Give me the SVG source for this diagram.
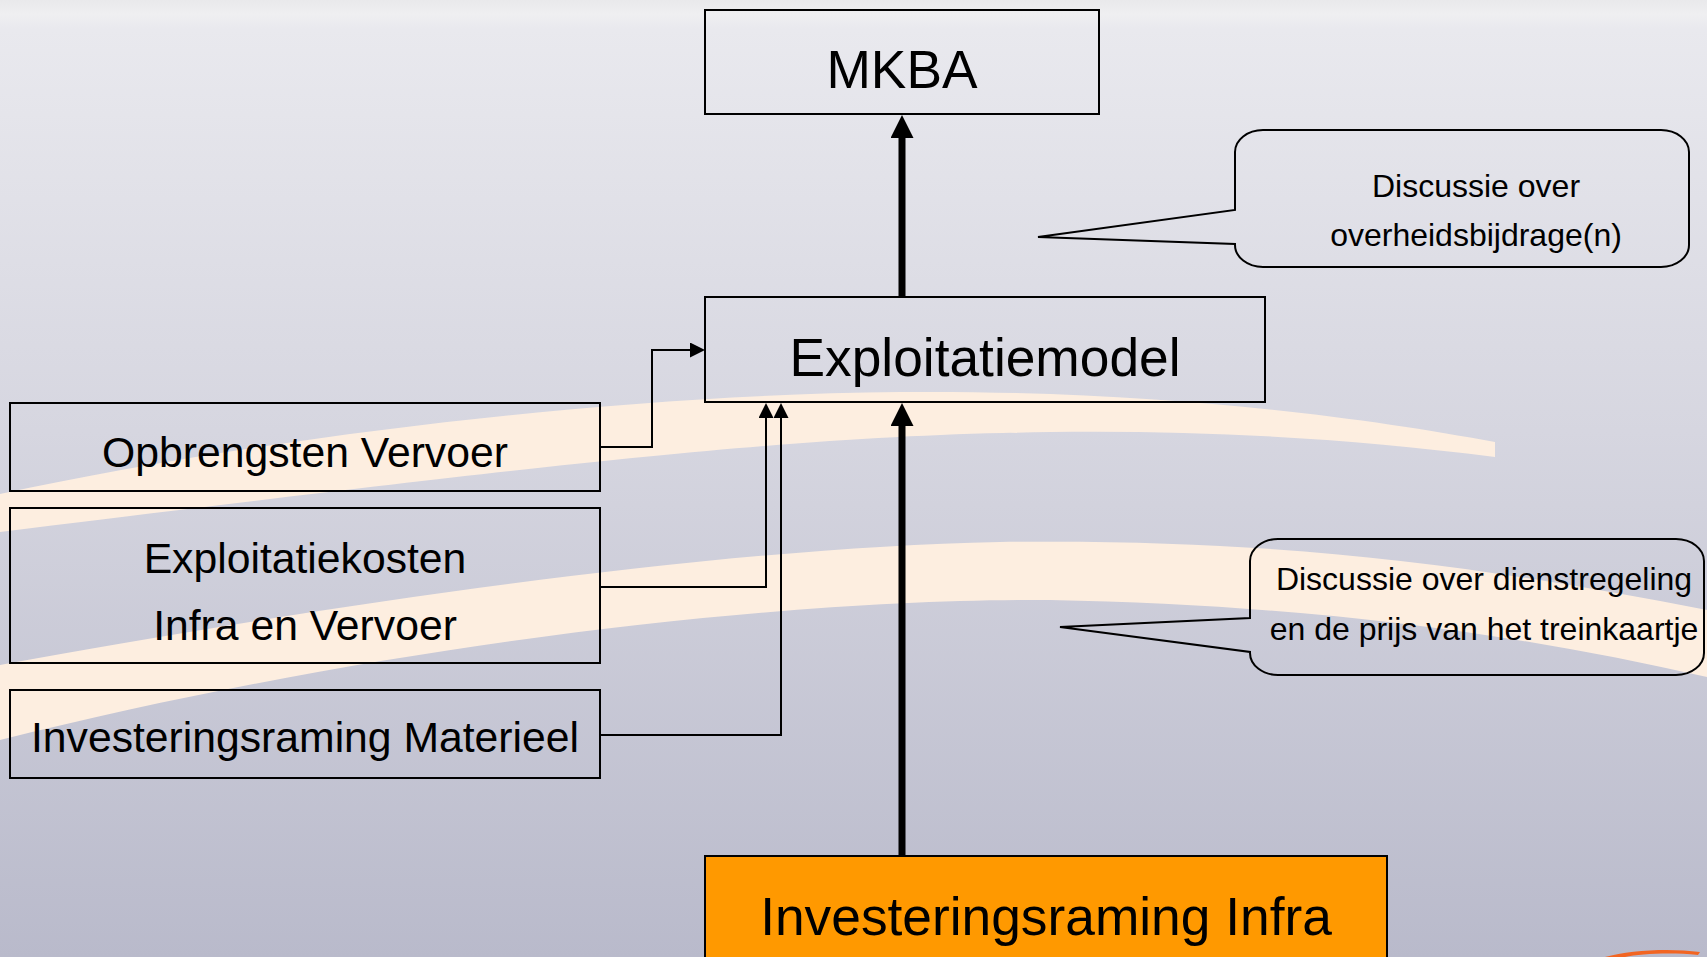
<svg xmlns="http://www.w3.org/2000/svg" width="1707" height="957" viewBox="0 0 1707 957">
<defs>
<linearGradient id="bg" x1="0" y1="0" x2="0" y2="1">
<stop offset="0" stop-color="#e9e9eb"/>
<stop offset="0.015" stop-color="#efeff1"/>
<stop offset="0.03" stop-color="#e9e9ee"/>
<stop offset="0.45" stop-color="#d6d6e0"/>
<stop offset="1" stop-color="#b9bacb"/>
</linearGradient>
<marker id="thin" viewBox="0 0 15 15" refX="0" refY="7.5" markerWidth="15" markerHeight="15" markerUnits="userSpaceOnUse" orient="auto">
<path d="M0,0 L15,7.5 L0,15 Z" fill="#000"/>
</marker>
<marker id="thick" viewBox="0 0 23 23" refX="0" refY="11.5" markerWidth="23" markerHeight="23" markerUnits="userSpaceOnUse" orient="auto">
<path d="M0,0 L23,11.5 L0,23 Z" fill="#000"/>
</marker>
</defs>
<style>
.box{fill:none;stroke:#000;stroke-width:2}
.big{font-family:"Liberation Sans",Arial,sans-serif;font-size:53.3px;fill:#000;text-anchor:middle}
.mid{font-family:"Liberation Sans",Arial,sans-serif;font-size:42.7px;fill:#000;text-anchor:middle}
.small{font-family:"Liberation Sans",Arial,sans-serif;font-size:32px;fill:#000;text-anchor:middle}
.thin{fill:none;stroke:#000;stroke-width:2;marker-end:url(#thin)}
.thick{fill:none;stroke:#000;stroke-width:7;marker-end:url(#thick)}
.band{fill:#fdeee0}
</style>
<rect x="0" y="0" width="1707" height="957" fill="url(#bg)"/>
<g id="background">
<path class="band" d="M0,494 C250,440 600,395 900,392 C1150,390 1350,415 1495,442 L1495,457 C1350,438 1200,430 1050,432 C800,436 600,458 0,532 Z"/>
<path class="band" d="M0,665 C300,610 700,548 1000,542 C1300,538 1500,570 1707,610 L1707,677 C1500,630 1300,605 1050,600 C800,598 400,640 0,740 Z"/>
<path d="M1605,957 C1630,950 1670,948 1700,952 L1698,955 C1670,952 1640,954 1625,957 Z" fill="#f26522"/>
</g>
<g id="connectors">
<path class="thick" d="M902,297 V138"/>
<path class="thick" d="M902,857 V426"/>
<path class="thin" d="M600,447 H652 V350 H690"/>
<path class="thin" d="M600,587 H766 V418"/>
<path class="thin" d="M600,735 H781 V418"/>
</g>
<g id="mkba">
<rect class="box" x="705" y="10" width="394" height="104"/>
<text class="big" x="902" y="88">MKBA</text>
</g>
<g id="exploitatiemodel">
<rect class="box" x="705" y="297" width="560" height="105"/>
<text class="big" x="985" y="376">Exploitatiemodel</text>
</g>
<g id="opbrengsten">
<rect class="box" x="10" y="403" width="590" height="88"/>
<text class="mid" x="305" y="467">Opbrengsten Vervoer</text>
</g>
<g id="exploitatiekosten">
<rect class="box" x="10" y="508" width="590" height="155"/>
<text class="mid" x="305" y="573">Exploitatiekosten</text>
<text class="mid" x="305" y="640">Infra en Vervoer</text>
</g>
<g id="materieel">
<rect class="box" x="10" y="690" width="590" height="88"/>
<text class="mid" x="305" y="752">Investeringsraming Materieel</text>
</g>
<g id="infra">
<rect x="705" y="856" width="682" height="110" fill="#ff9900" stroke="#000" stroke-width="2"/>
<text class="big" x="1046" y="935">Investeringsraming Infra</text>
</g>
<g id="callout1">
<path class="box" d="M1263,130 H1661 A28,22 0 0 1 1689,152 V245 A28,22 0 0 1 1661,267 H1263 A28,22 0 0 1 1235,245 V244 L1038,237 L1235,210 V152 A28,22 0 0 1 1263,130 Z"/>
<text class="small" x="1476" y="197">Discussie over</text>
<text class="small" x="1476" y="246">overheidsbijdrage(n)</text>
</g>
<g id="callout2">
<path class="box" d="M1278,539 H1676 A28,22 0 0 1 1704,561 V653 A28,22 0 0 1 1676,675 H1278 A28,22 0 0 1 1250,653 V652 L1060,627 L1250,618 V561 A28,22 0 0 1 1278,539 Z"/>
<text class="small" x="1484" y="590">Discussie over dienstregeling</text>
<text class="small" x="1484" y="640">en de prijs van het treinkaartje</text>
</g>
</svg>
